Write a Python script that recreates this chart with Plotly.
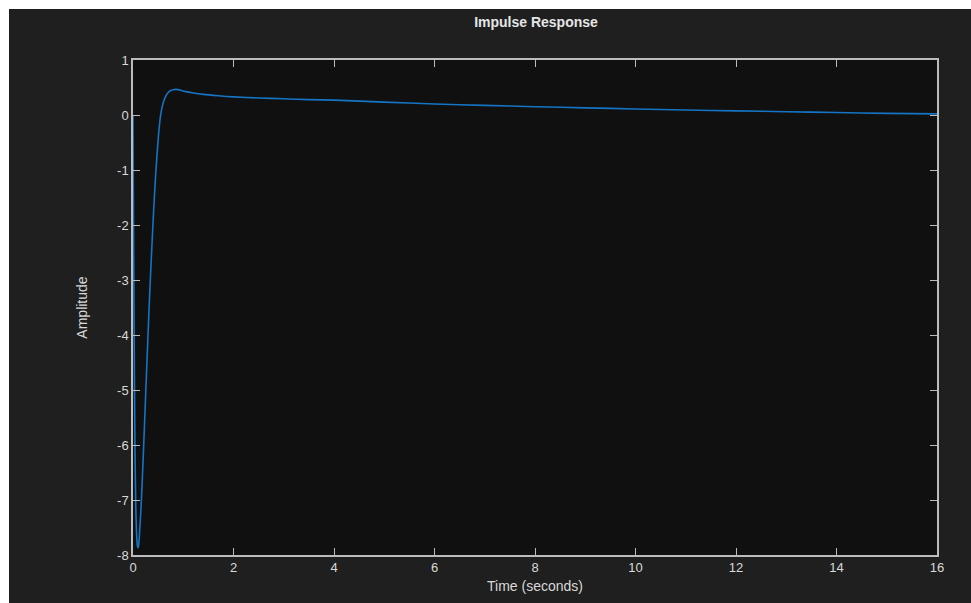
import plotly.graph_objects as go

# Data
time_s = [0, 0.01, 0.02, 0.03, 0.04, 0.055, 0.07, 0.085, 0.1, 0.115, 0.13, 0.15, 0.17,
          0.2, 0.23, 0.26, 0.29, 0.33, 0.37, 0.41, 0.45, 0.5, 0.55, 0.6, 0.65, 0.7,
          0.75, 0.8, 0.86, 0.95, 1.05, 1.2, 1.4, 1.7, 2, 2.5, 3, 3.5, 4, 5, 6, 7, 8,
          9, 10, 11, 12, 13, 14, 15, 16]
amplitude = [0, -1.9, -3.6, -5.0, -6.1, -7.1, -7.6, -7.82, -7.87, -7.8, -7.6, -7.3, -6.95,
             -6.3, -5.6, -4.9, -4.2, -3.3, -2.5, -1.75, -1.1, -0.45, 0.0, 0.22, 0.34, 0.41,
             0.445, 0.46, 0.465, 0.45, 0.425, 0.4, 0.375, 0.35, 0.33, 0.31, 0.295, 0.28,
             0.27, 0.235, 0.2, 0.175, 0.15, 0.13, 0.11, 0.09, 0.075, 0.06, 0.045, 0.03, 0.02]

x_ticks = [0, 2, 4, 6, 8, 10, 12, 14, 16]
x_ticklabels = ["0", "2", "4", "6", "8", "10", "12", "14", "16"]
y_ticks = [1, 0, -1, -2, -3, -4, -5, -6, -7, -8]
y_ticklabels = ["1", "0", "-1", "-2", "-3", "-4", "-5", "-6", "-7", "-8"]

W, H = 971, 603
L, R, T, B = 133, 937, 60, 555

AX = "#bcbcbc"
TXT = "#d9d9d9"

fig = go.Figure()
fig.add_trace(go.Scatter(x=time_s, y=amplitude, mode="lines",
                         line=dict(color="#1574c4", width=1.6, shape="spline", smoothing=0.6),
                         hoverinfo="skip", showlegend=False))

def px2x(px):
    return (px - L) / (R - L)

def py2y(py):
    return (B - py) / (B - T)

shapes = [
    dict(type="rect", xref="paper", yref="paper", x0=px2x(-5), x1=px2x(9),
         y0=py2y(H + 5), y1=py2y(-5), fillcolor="white", line=dict(width=0), layer="below"),
    dict(type="rect", xref="paper", yref="paper", x0=px2x(-5), x1=px2x(W + 5),
         y0=py2y(9), y1=py2y(-5), fillcolor="white", line=dict(width=0), layer="below"),
]

font_family = "Liberation Sans, Arial, sans-serif"

fig.update_layout(
    width=W, height=H,
    margin=dict(l=L, r=W - R, t=T, b=H - B),
    paper_bgcolor="#1f1f1f",
    plot_bgcolor="#101010",
    font=dict(family=font_family, color=TXT, size=13),
    title=dict(text="<b>Impulse Response</b>", x=536 / W,
               xanchor="center", y=1 - 22 / H, yanchor="middle",
               font=dict(size=14, color="#e6e6e6", family=font_family)),
    shapes=shapes,
    xaxis=dict(range=[0, 16], tickvals=x_ticks, ticktext=x_ticklabels,
               showgrid=False, zeroline=False, showline=True, linecolor=AX, linewidth=1.5,
               mirror="ticks", ticks="inside", ticklen=7, tickcolor=AX, tickwidth=1,
               tickfont=dict(size=13, color=TXT),
               title=dict(text="Time (seconds)", font=dict(size=14, color=TXT), standoff=7)),
    yaxis=dict(range=[-8, 1], tickvals=y_ticks, ticktext=y_ticklabels,
               showgrid=False, zeroline=False, showline=True, linecolor=AX, linewidth=1.5,
               mirror="ticks", ticks="inside", ticklen=7, tickcolor=AX, tickwidth=1,
               tickfont=dict(size=13, color=TXT),
               title=dict(text="Amplitude", font=dict(size=14, color=TXT), standoff=26)),
)

fig.write_html("out.html")
